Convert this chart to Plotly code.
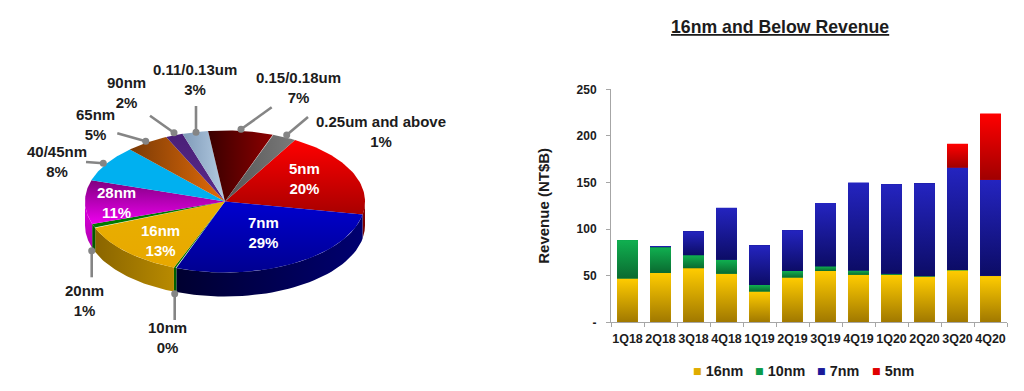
import math
import plotly.graph_objects as go

# ---------- data: stacked bars ----------
quarters = ["1Q18","2Q18","3Q18","4Q18","1Q19","2Q19","3Q19","4Q19","1Q20","2Q20","3Q20","4Q20"]
rev_16nm = [47,53,58,52,33,48,55,51,51,49,55.5,49.5]
rev_10nm = [41,27.5,14,15,7,7,5,4.5,1,0.5,0.5,0.5]
rev_7nm = [0,1,25.5,56,42.5,43.7,68,94.5,96,99.5,110,103]
rev_5nm = [0,0,0,0,0,0,0,0,0,0,25.5,71]

# ---------- data: pie ----------
node_names = ["5nm","7nm","10nm","16nm","20nm","28nm","40/45nm","65nm","90nm","0.11/0.13um","0.15/0.18um","0.25um and above"]
node_label_pct = [20,29,0,13,1,11,8,5,2,3,7,1]
node_drawn_share = [19.7,27.8,0.3,13,1,10,8.3,5,2,3,7.5,2.8]

# ---------- styles and layout ----------
TXT = "#1c1c1c"
FONT = "Liberation Sans"
CX, CY, RX, RY, DEPTH = 225, 201.5, 140, 71, 24
START_DEG = 60
top_fill = [
    ("vertical", "#a80000", "#ff0000"), ("vertical", "#000090", "#0000d0"), ("vertical", "#007000", "#007000"),
    ("vertical", "#e8a800", "#e8b000"), ("vertical", "#007a00", "#007a00"), ("vertical", "#ee00ee", "#800080"),
    ("vertical", "#00b0f0", "#00b0f0"), ("horizontal", "#7a3a05", "#e46c0a"), ("vertical", "#5a2a8a", "#4a1f78"),
    ("horizontal", "#7f9ab8", "#b4cce2"), ("horizontal", "#3a0000", "#8c0000"), ("horizontal", "#555555", "#7a7a7a"),
]
side_fill = [
    ("vertical", "#700000", "#900000"), ("horizontal", "#000030", "#000070"), ("vertical", "#006000", "#006000"),
    ("horizontal", "#8a6500", "#b88a00"), ("vertical", "#005a00", "#005a00"), ("vertical", "#b000b0", "#e000e0"),
    None, None, None, None, None, None,
]
label_pos = {
    "5nm": (304, 178, "white"), "7nm": (263, 232, "white"), "10nm": (167, 337, TXT), "16nm": (160, 240, "white"),
    "20nm": (84, 300.5, TXT), "28nm": (116, 202, "white"), "40/45nm": (57, 161, TXT), "65nm": (95, 124, TXT),
    "90nm": (126, 92, TXT), "0.11/0.13um": (195, 79, TXT), "0.15/0.18um": (298, 87, TXT), "0.25um and above": (381, 131, TXT),
}
leaders = [
    ((286.7,135),(308,117)), ((241,129.3),(271.7,107.3)), ((196,132.3),(196,106)), ((174,132.7),(150,115.7)),
    ((145.7,141.3),(117.3,133.3)), ((103.3,163.3),(86,162)), ((91.7,250.7),(91.7,277.3)), ((174.7,293.7),(174.7,320)),
]
PLOT_L, PLOT_R, PLOT_T, PLOT_B = 611, 1007, 89.3, 322.3
W, H = 1024, 391
LEGEND_Y = 370.5
legend_left = {"16nm": 691, "10nm": 753, "7nm": 815, "5nm": 870}

fig = go.Figure()

# ---------- bars ----------
series = [
    ("16nm", rev_16nm, "#e0ac00", "#a07800", "#ffcc00"),
    ("10nm", rev_10nm, "#0a9a4a", "#0a6a30", "#10b050"),
    ("7nm", rev_7nm, "#1a1a9a", "#0c0c66", "#2424c0"),
    ("5nm", rev_5nm, "#e00000", "#a00000", "#ff0000"),
]
x_idx = list(range(len(quarters)))
BAR_W = 0.63
for name, vals, col, _, _ in series:
    fig.add_trace(go.Bar(x=x_idx, y=vals, name=name, marker=dict(color=col, line=dict(width=0)), width=BAR_W,
                         showlegend=False))

# vertical shading laid over each bar segment, from the same values
base = [0.0] * len(quarters)
for name, vals, _, dark, bright in series:
    for i, v in enumerate(vals):
        if v > 0:
            y0, y1 = base[i], base[i] + v
            fig.add_trace(go.Scatter(
                x=[i-BAR_W/2, i+BAR_W/2, i+BAR_W/2, i-BAR_W/2, i-BAR_W/2], y=[y0, y0, y1, y1, y0],
                mode="lines", line=dict(width=0), fill="toself", showlegend=False, hoverinfo="skip",
                fillgradient=dict(type="vertical", colorscale=[[0, dark], [1, bright]])))
        base[i] += v

# ---------- 3D-look pie on a pixel-scaled hidden axis pair ----------
def arc(t0, t1, n=40):
    return [t0 + (t1 - t0) * k / n for k in range(n + 1)]
def px(t):
    return CX + RX * math.cos(math.radians(t)), CY - RY * math.sin(math.radians(t))
def grad(spec):
    kind, c0, c1 = spec
    return dict(type=kind, colorscale=[[0, c0], [1, c1]])

total = sum(node_drawn_share)
edges = [START_DEG]
for s in node_drawn_share:
    edges.append(edges[-1] - s / total * 360)

for i in range(len(node_names)):
    a, b = max(edges[i], -180), max(edges[i + 1], -180)
    if a > 0: a = 0
    if b > 0: b = 0
    if side_fill[i] is None or a == b:
        continue
    pts = [px(t) for t in arc(a, b)]
    xs = [p[0] for p in pts] + [p[0] for p in reversed(pts)]
    ys = [p[1] for p in pts] + [p[1] + DEPTH for p in reversed(pts)]
    fig.add_trace(go.Scatter(x=xs + xs[:1], y=ys + ys[:1], xaxis="x2", yaxis="y2", mode="lines", line=dict(width=0),
                             fill="toself", fillgradient=grad(side_fill[i]), showlegend=False, hoverinfo="skip"))
for i in range(len(node_names)):
    pts = [px(t) for t in arc(edges[i], edges[i + 1])]
    xs = [CX] + [p[0] for p in pts] + [CX]
    ys = [CY] + [p[1] for p in pts] + [CY]
    fig.add_trace(go.Scatter(x=xs, y=ys, xaxis="x2", yaxis="y2", mode="lines", line=dict(width=0), fill="toself",
                             fillgradient=grad(top_fill[i]), showlegend=False, name=node_names[i], hoverinfo="name"))
for (p0, p1) in leaders:
    fig.add_trace(go.Scatter(x=[p0[0], p1[0]], y=[p0[1], p1[1]], xaxis="x2", yaxis="y2", mode="lines",
                             line=dict(color="#858585", width=2.6), showlegend=False, hoverinfo="skip"))
    fig.add_trace(go.Scatter(x=[p0[0]], y=[p0[1]], xaxis="x2", yaxis="y2", mode="markers",
                             marker=dict(color="#858585", size=7), showlegend=False, hoverinfo="skip"))

annotations = []
for n, pct in zip(node_names, node_label_pct):
    x, y, c = label_pos[n]
    annotations.append(dict(x=x, y=y, xref="x2", yref="y2", text=f"<b>{n}<br>{pct}%</b>", showarrow=False,
                            xanchor="center", yanchor="middle",
                            font=dict(family=FONT, size=15, color=c), align="center"))
annotations.append(dict(x=779.5/W, y=1-27/H, xref="paper", yref="paper", showarrow=False, xanchor="center", yanchor="middle",
                        text="<b><u>16nm and Below Revenue</u></b>", font=dict(family=FONT, size=17.7, color=TXT)))
for name, _, col, _, bright in series:
    annotations.append(dict(x=legend_left[name]/W, y=1-LEGEND_Y/H, xref="paper", yref="paper", showarrow=False,
                            xanchor="left", yanchor="middle", font=dict(family=FONT, size=14.4, color=TXT),
                            text=f"<span style='color:{col}'>■</span> <b>{name}</b>"))

fig.update_layout(
    width=W, height=H, margin=dict(l=0, r=0, t=0, b=0, autoexpand=False), paper_bgcolor="white", plot_bgcolor="white",
    barmode="stack", annotations=annotations, font=dict(family=FONT, color=TXT), showlegend=False,
    xaxis=dict(domain=[PLOT_L/W, PLOT_R/W], range=[-0.5, 11.5], tickmode="array", tickvals=x_idx,
               ticktext=[f"<b>{q}</b>" for q in quarters], ticklen=0, ticklabelstandoff=5,
               showgrid=False, zeroline=False, showline=True, linecolor="#a6a6a6", linewidth=1,
               tickfont=dict(family=FONT, size=12.5, color=TXT),
               minor=dict(tickmode="array", tickvals=[k - 0.5 for k in range(13)], ticks="outside", ticklen=4,
                          tickcolor="#a6a6a6", showgrid=False)),
    yaxis=dict(domain=[1-PLOT_B/H, 1-PLOT_T/H], range=[0, 250], tickmode="array", tickvals=[0,50,100,150,200,250],
               ticktext=["<b>-</b>","<b>50</b>","<b>100</b>","<b>150</b>","<b>200</b>","<b>250</b>"],
               ticks="outside", ticklen=4, tickcolor="#a6a6a6", showgrid=False, zeroline=False, showline=True,
               linecolor="#a6a6a6", linewidth=1, ticklabelstandoff=7, tickfont=dict(family=FONT, size=12, color=TXT),
               title=dict(text="<b>Revenue (NT$B)</b>", font=dict(family=FONT, size=15, color=TXT), standoff=23)),
    xaxis2=dict(domain=[0, 0.5], range=[0, W/2], visible=False, anchor="y2", fixedrange=True),
    yaxis2=dict(domain=[0, 1], range=[H, 0], visible=False, anchor="x2", fixedrange=True),
)
fig.write_html("out.html", config={"displayModeBar": False},
               post_script="document.body.style.margin='0';document.body.style.overflow='hidden';")
